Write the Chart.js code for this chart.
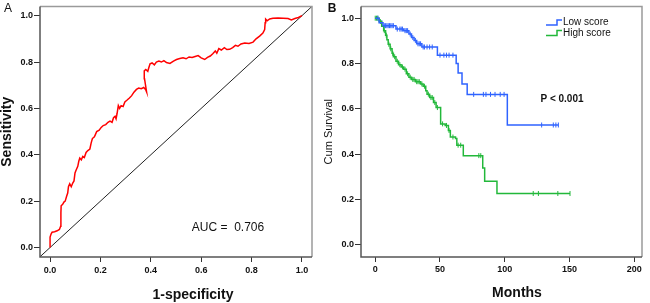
<!DOCTYPE html>
<html>
<head>
<meta charset="utf-8">
<script src="https://cdn.jsdelivr.net/npm/chart.js@4"></script>
<style>
body{margin:0;background:#fff;}
#wrap{position:relative;width:650px;height:303px;background:#fff;}
#rocBox{position:absolute;left:0;top:0;width:320px;height:303px;}
#kmBox{position:absolute;left:320px;top:0;width:330px;height:303px;}
</style>
</head>
<body>
<div id="wrap">
  <div id="rocBox"><canvas id="roc" width="320" height="303"></canvas></div>
  <div id="kmBox"><canvas id="km" width="330" height="303"></canvas></div>
</div>
<script>
// panel A: ROC curve
var rocFpr = [0, 0, 0.004, 0.008, 0.018, 0.028, 0.037, 0.042, 0.043, 0.044,
  0.050, 0.055, 0.060, 0.066, 0.070, 0.073, 0.078, 0.084, 0.090, 0.095,
  0.099, 0.104, 0.110, 0.114, 0.118, 0.124, 0.130, 0.136, 0.143, 0.150,
  0.158, 0.163, 0.168, 0.176, 0.185, 0.195, 0.203, 0.211, 0.221, 0.230,
  0.238, 0.246, 0.252, 0.258, 0.262, 0.266, 0.271, 0.276, 0.282, 0.290,
  0.297, 0.306, 0.315, 0.324, 0.333, 0.343, 0.352, 0.362, 0.372, 0.380,
  0.383, 0.379, 0.375, 0.374, 0.380, 0.388, 0.392, 0.397, 0.405, 0.414,
  0.422, 0.432, 0.442, 0.452, 0.462, 0.476, 0.490, 0.502, 0.515, 0.528,
  0.540, 0.552, 0.564, 0.576, 0.588, 0.600, 0.614, 0.625, 0.636, 0.646,
  0.656, 0.662, 0.670, 0.680, 0.692, 0.702, 0.713, 0.725, 0.736, 0.746,
  0.758, 0.773, 0.790, 0.806, 0.818, 0.832, 0.845, 0.852, 0.854, 0.856,
  0.862, 0.872, 0.885, 0.905, 0.925, 0.945, 0.958, 0.972, 0.986, 1.0];
var rocTpr = [0, 0.045, 0.058, 0.066, 0.068, 0.072, 0.078, 0.092, 0.150, 0.180,
  0.186, 0.196, 0.200, 0.222, 0.235, 0.262, 0.275, 0.262, 0.278, 0.287,
  0.322, 0.335, 0.350, 0.372, 0.386, 0.378, 0.393, 0.388, 0.410, 0.418,
  0.425, 0.450, 0.470, 0.478, 0.500, 0.506, 0.518, 0.526, 0.530, 0.540,
  0.545, 0.540, 0.560, 0.566, 0.555, 0.578, 0.612, 0.600, 0.612, 0.608,
  0.628, 0.636, 0.645, 0.655, 0.670, 0.682, 0.688, 0.685, 0.690, 0.680,
  0.672, 0.700, 0.728, 0.762, 0.768, 0.760, 0.775, 0.792, 0.796, 0.788,
  0.800, 0.804, 0.800, 0.806, 0.798, 0.794, 0.804, 0.811, 0.815, 0.818,
  0.814, 0.822, 0.820, 0.824, 0.828, 0.818, 0.811, 0.820, 0.826, 0.836,
  0.848, 0.838, 0.858, 0.852, 0.862, 0.854, 0.855, 0.862, 0.872, 0.868,
  0.878, 0.882, 0.880, 0.886, 0.900, 0.912, 0.925, 0.940, 0.970, 0.985,
  0.978, 0.986, 0.989, 0.990, 0.989, 0.988, 0.982, 0.988, 0.992, 1.0];
var refLine = [-0.04, 1.04];
var aucText = 'AUC =  0.706';
var unitTicks = [0, 0.2, 0.4, 0.6, 0.8, 1.0];

// panel B: Kaplan-Meier curves
var lowTime = [0, 3, 6, 16, 22, 26, 28, 30, 32, 36, 48, 62.5, 64, 67, 71, 102];
var lowSurv = [1.0, 0.98, 0.967, 0.952, 0.945, 0.93, 0.915, 0.902, 0.887, 0.873, 0.837, 0.80, 0.758, 0.71, 0.664, 0.529];
var lowCensor = [2, 5, 7, 8, 9, 10, 11, 12, 13, 14, 17, 19, 20, 21, 23, 24, 25, 27, 29, 31,
  33, 34, 35, 37, 38, 40, 42, 44, 50, 53, 55, 57, 60, 76, 83.5, 85.5, 89, 92.5, 96.5, 99.5,
  128.5, 137.5, 139.5, 141.4];
var highTime = [0, 3, 5, 6.5, 8, 9, 10, 11.5, 13, 14, 16, 18, 20, 22, 24, 26, 28, 31, 35, 37,
  39, 40, 42, 45, 47, 50.5, 54, 56.5, 58, 62, 63, 68, 83, 84.5, 94];
var highSurv = [1.0, 0.985, 0.965, 0.945, 0.925, 0.905, 0.885, 0.865, 0.845, 0.83, 0.81, 0.795, 0.785, 0.775, 0.755, 0.74, 0.73, 0.72, 0.71, 0.70,
  0.68, 0.665, 0.65, 0.628, 0.606, 0.534, 0.527, 0.505, 0.476, 0.469, 0.44, 0.394, 0.339, 0.281, 0.227];
var highCensor = [0, 1, 2, 4, 7, 8.5, 10.5, 12, 13.5, 15, 17, 19, 21, 23, 25, 27, 29, 30, 32, 33,
  34, 36, 38, 41, 43, 44, 46, 48, 52, 55, 57, 60, 64, 66, 80, 81.5, 122, 126, 141, 150.4];
var groupNames = ['Low score', 'High score'];
var monthTicks = [0, 50, 100, 150, 200];
var pText = 'P < 0.001';

var FONT = '"Liberation Sans", Arial, sans-serif';
Chart.defaults.font.family = FONT;
Chart.defaults.color = '#111';

function survAt(times, surv, t) {
  var s = surv[0];
  for (var i = 0; i < times.length; i++) {
    if (times[i] <= t) s = surv[i];
  }
  return s;
}
function stepPoints(times, surv, censor) {
  var pts = times.map(function(t, i) { return {x: t, y: surv[i]}; });
  var end = Math.max.apply(null, censor);
  pts.push({x: end, y: surv[surv.length - 1]});
  return pts;
}
function censorPoints(times, surv, censor) {
  return censor.map(function(t) { return {x: t, y: survAt(times, surv, t)}; });
}

// frame + free text
var framePlugin = {
  id: 'frame',
  afterDatasetsDraw: function(chart, args, opts) {
    var a = chart.chartArea, ctx = chart.ctx;
    ctx.save();
    ctx.lineWidth = 1.5;
    ctx.strokeStyle = '#9a9a9a';
    ctx.beginPath();
    ctx.moveTo(a.left, a.top); ctx.lineTo(a.right, a.top); ctx.lineTo(a.right, a.bottom);
    ctx.stroke();
    ctx.strokeStyle = '#555';
    ctx.beginPath();
    ctx.moveTo(a.left, a.top); ctx.lineTo(a.left, a.bottom); ctx.lineTo(a.right, a.bottom);
    ctx.stroke();
    (opts.texts || []).forEach(function(t) {
      ctx.font = t.font;
      ctx.fillStyle = '#111';
      ctx.textAlign = t.align || 'center';
      ctx.textBaseline = 'middle';
      ctx.fillText(t.text, t.x, t.y);
    });
    (opts.legend || []).forEach(function(l) {
      ctx.strokeStyle = l.color;
      ctx.lineWidth = 1.5;
      ctx.beginPath();
      ctx.moveTo(l.x, l.y + 2.5); ctx.lineTo(l.x + 11, l.y + 2.5);
      ctx.lineTo(l.x + 11, l.y - 2.5); ctx.lineTo(l.x + 16, l.y - 2.5);
      ctx.stroke();
      ctx.font = '10px ' + FONT;
      ctx.fillStyle = '#111';
      ctx.textAlign = 'left';
      ctx.textBaseline = 'middle';
      ctx.fillText(l.text, l.x + 17, l.y);
    });
    ctx.restore();
  }
};

function axis(min, max, step, fit, tickLen, pad, fmt, title) {
  return {
    type: 'linear', min: min, max: max,
    afterFit: fit,
    border: {display: false},
    grid: {drawOnChartArea: false, drawTicks: true, tickLength: tickLen, color: '#333', lineWidth: 1},
    ticks: {stepSize: step, includeBounds: false, padding: pad, font: {size: 9, weight: 'bold'}, color: '#111',
      maxRotation: 0, callback: fmt},
    title: title || {display: false}
  };
}
var fmt1 = function(v) { return v.toFixed(1); };
var fmt0 = function(v) { return String(v); };

new Chart(document.getElementById('roc').getContext('2d'), {
  type: 'scatter',
  data: {
    datasets: [{
      data: rocFpr.map(function(x, i) { return {x: x, y: rocTpr[i]}; }),
      showLine: true, borderColor: '#ff0000', borderWidth: 1.5, pointRadius: 0, tension: 0
    }, {
      data: refLine.map(function(v) { return {x: v, y: v}; }),
      showLine: true, borderColor: '#222', borderWidth: 1, pointRadius: 0
    }]
  },
  options: {
    responsive: false, animation: false,
    layout: {padding: {top: 3, right: 8, left: 0, bottom: 0}},
    plugins: {
      legend: {display: false}, tooltip: {enabled: false},
      frame: {texts: [
        {text: 'A', x: 8, y: 9, font: '12px ' + FONT},
        {text: aucText, x: 228, y: 228, font: '12px ' + FONT},
        {text: '1-specificity', x: 193, y: 295, font: 'bold 14px ' + FONT}
      ]}
    },
    scales: {
      x: axis(-0.04, 1.04, 0.2, function(s) { s.height = 46; }, 5, 3, fmt1),
      y: axis(-0.041, 1.04, 0.2, function(s) { s.width = 40; }, 6, 1, fmt1,
        {display: true, text: 'Sensitivity', font: {size: 14, weight: 'bold', lineHeight: 1}, padding: {top: 0.5, bottom: 0}, color: '#111'})
    }
  },
  plugins: [framePlugin]
});

var blue = '#2f63ff', green = '#22b83a';
new Chart(document.getElementById('km').getContext('2d'), {
  type: 'scatter',
  data: {
    datasets: [{
      label: groupNames[0],
      data: stepPoints(lowTime, lowSurv, lowCensor),
      showLine: true, stepped: true, borderColor: blue, borderWidth: 1.5, pointRadius: 0
    }, {
      label: groupNames[1],
      data: stepPoints(highTime, highSurv, highCensor),
      showLine: true, stepped: true, borderColor: green, borderWidth: 1.5, pointRadius: 0
    }, {
      data: censorPoints(lowTime, lowSurv, lowCensor),
      pointStyle: 'line', rotation: 90, pointRadius: 2.5, borderColor: blue, borderWidth: 1, backgroundColor: blue
    }, {
      data: censorPoints(highTime, highSurv, highCensor),
      pointStyle: 'line', rotation: 90, pointRadius: 2.5, borderColor: green, borderWidth: 1, backgroundColor: green
    }]
  },
  options: {
    responsive: false, animation: false,
    layout: {padding: {top: 2, right: 8, left: 0, bottom: 0}},
    plugins: {
      legend: {display: false}, tooltip: {enabled: false},
      frame: {
        texts: [
          {text: 'B', x: 12, y: 9, font: 'bold 12px ' + FONT},
          {text: pText, x: 242, y: 99, font: 'bold 10px ' + FONT},
          {text: 'Months', x: 197, y: 293, font: 'bold 14px ' + FONT}
        ],
        legend: [
          {text: groupNames[0], color: blue, x: 226, y: 22.5},
          {text: groupNames[1], color: green, x: 226, y: 33}
        ]
      }
    },
    scales: {
      x: axis(-11, 206, 50, function(s) { s.height = 46; }, 5, 2, fmt0),
      y: axis(-0.053, 1.052, 0.2, function(s) { s.width = 41; }, 6, 1, fmt1,
        {display: true, text: 'Cum Survival', font: {size: 11, lineHeight: 1}, padding: {top: 3, bottom: 0}, color: '#111'})
    }
  },
  plugins: [framePlugin]
});
</script>
</body>
</html>
